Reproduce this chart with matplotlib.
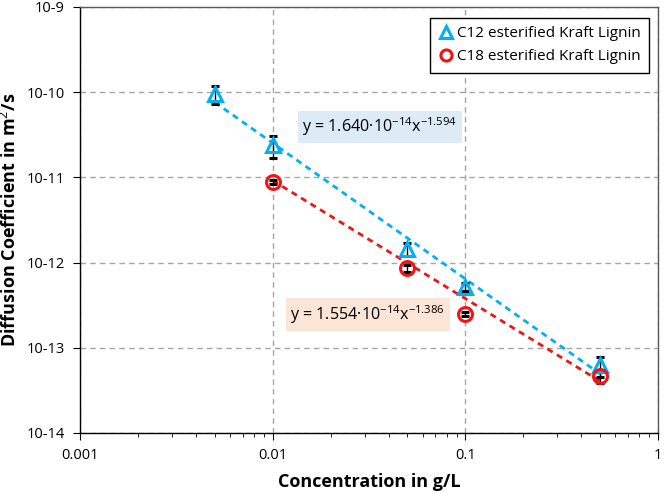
import matplotlib
matplotlib.use("Agg")
import matplotlib.pyplot as plt
from matplotlib.lines import Line2D
import numpy as np

plt.rcParams['font.family'] = ['Open Sans', 'DejaVu Sans']
plt.rcParams['mathtext.fontset'] = 'custom'
plt.rcParams['mathtext.rm'] = 'Open Sans'
plt.rcParams['mathtext.it'] = 'Open Sans'

# ---- data ----
c12_x = [0.005, 0.01, 0.05, 0.1, 0.5]
c12_y = [9.5e-11, 2.4e-11, 1.44e-12, 5.2e-13, 6.2e-14]
c12_err = [2.3e-11, 0.7e-11, 0.25e-12, 0.5e-13, 1.6e-14]

c18_x = [0.01, 0.05, 0.1, 0.5]
c18_y = [8.8e-12, 8.6e-13, 2.5e-13, 4.7e-14]
c18_err = [0.4e-12, 0.8e-13, 0.15e-13, 0.8e-14]

# power-law trendlines shown in the chart: y = a * x^b
c12_fit_a, c12_fit_b = 1.640e-14, -1.594
c18_fit_a, c18_fit_b = 1.554e-14, -1.386

x_ticks = [0.001, 0.01, 0.1, 1]
x_tick_labels = ["0.001", "0.01", "0.1", "1"]
y_ticks = [1e-14, 1e-13, 1e-12, 1e-11, 1e-10, 1e-9]
y_tick_labels = ["10-14", "10-13", "10-12", "10-11", "10-10", "10-9"]

c12_color = "#00B0F0"
c18_color = "#F01414"

fig = plt.figure(figsize=(6.64, 4.93), dpi=100)
ax = fig.add_axes([80/664, 1-433/493, (658-80)/664, (433-7)/493])
ax.set_xscale('log')
ax.set_yscale('log')
ax.set_xlim(0.001, 1)
ax.set_ylim(1e-14, 1e-9)

ax.grid(True, which='major', color='#A6A6A6', linestyle=(0, (4, 3)), linewidth=1.0)
ax.set_axisbelow(True)

# trendlines
fx12 = np.geomspace(min(c12_x), max(c12_x), 50)
ax.plot(fx12, c12_fit_a * fx12 ** c12_fit_b, color=c12_color, lw=2,
        linestyle=(0, (2.2, 1.8)), zorder=2)
fx18 = np.geomspace(min(c18_x), max(c18_x), 50)
ax.plot(fx18, c18_fit_a * fx18 ** c18_fit_b, color=c18_color, lw=2,
        linestyle=(0, (2.2, 1.8)), zorder=2)

# markers with error bars
ax.errorbar(c12_x, c12_y, yerr=c12_err, fmt='^', mfc='none', mec=c12_color,
            mew=2.2, ms=10.5, ecolor='black', elinewidth=1, capsize=3, capthick=1,
            zorder=4)
ax.errorbar(c18_x, c18_y, yerr=c18_err, fmt='o', mfc='none', mec=c18_color,
            mew=2.2, ms=10, ecolor='black', elinewidth=1, capsize=3, capthick=1,
            zorder=4)

ax.set_xticks(x_ticks)
ax.set_xticklabels(x_tick_labels)
ax.set_yticks(y_ticks)
ax.set_yticklabels(y_tick_labels)
ax.yaxis.set_minor_locator(matplotlib.ticker.NullLocator())
ax.tick_params(axis='both', which='major', labelsize=10.5, direction='out',
               length=5, color='black', pad=6)
ax.tick_params(axis='x', which='minor', direction='out', length=3)

for s in ['left', 'bottom']:
    ax.spines[s].set_color('black')
    ax.spines[s].set_linewidth(1.0)
for s in ['top', 'right']:
    ax.spines[s].set_color('#595959')
    ax.spines[s].set_linewidth(1.0)

ax.set_xlabel("Concentration in g/L", fontsize=13, fontweight='bold', labelpad=7)
ax.set_ylabel("Diffusion Coefficient in m$^2$/s", fontsize=13, fontweight='bold',
              labelpad=5)

# equation boxes
ax.text(0.519, 0.718, "y = 1.640·10$^{-14}$x$^{-1.594}$", transform=ax.transAxes,
        ha='center', va='center', fontsize=11.6,
        bbox=dict(boxstyle='square,pad=0.3', fc='#DDEBF7', ec='none'))
ax.text(0.498, 0.278, "y = 1.554·10$^{-14}$x$^{-1.386}$", transform=ax.transAxes,
        ha='center', va='center', fontsize=11.6,
        bbox=dict(boxstyle='square,pad=0.3', fc='#FBE5D6', ec='none'))

handles = [
    Line2D([], [], marker='^', ls='none', mfc='none', mec=c12_color, mew=2.2, ms=8,
           label='C12 esterified Kraft Lignin'),
    Line2D([], [], marker='o', ls='none', mfc='none', mec=c18_color, mew=2.2, ms=8,
           label='C18 esterified Kraft Lignin'),
]
leg = ax.legend(handles=handles, loc='upper right', bbox_to_anchor=(0.984, 0.974),
                fontsize=11, frameon=True, fancybox=False, framealpha=1,
                edgecolor='black', borderaxespad=0, handletextpad=0.2,
                handlelength=1.0, labelspacing=0.5, borderpad=0.55)
leg.get_frame().set_linewidth(1.0)
leg.set_zorder(10)

fig.savefig("out.png", dpi=100)
